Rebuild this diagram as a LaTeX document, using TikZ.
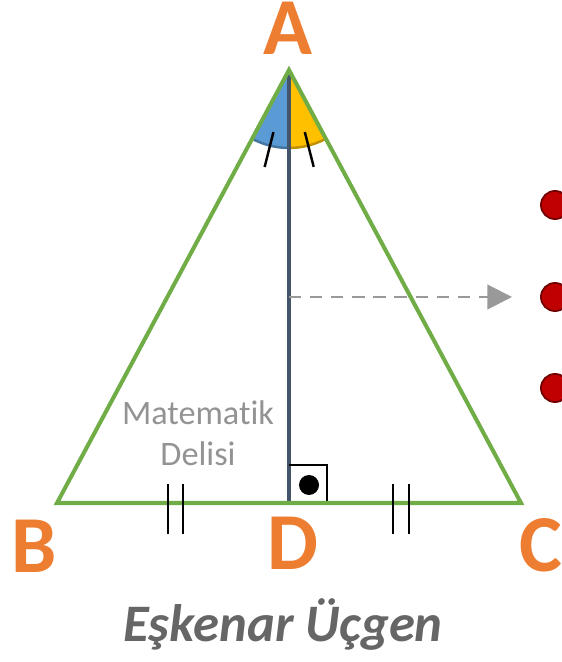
\documentclass[tikz,border=0pt]{standalone}
\usepackage{fontspec}
\setmainfont{Carlito}[Ligatures=NoCommon]
\usepackage{tikz}
\usetikzlibrary{arrows.meta,calc}
\definecolor{trigreen}{RGB}{112,173,71}
\definecolor{slate}{RGB}{68,84,106}
\definecolor{lblorange}{RGB}{237,125,49}
\definecolor{angblue}{RGB}{91,155,213}
\definecolor{angyellow}{RGB}{255,192,0}
\definecolor{dotred}{RGB}{192,0,0}
\tikzset{
  vlabel/.style={anchor=base,inner sep=0pt,text=lblorange,font=\fontsize{46}{46}\selectfont\bfseries},
  tick/.style={black,line width=1.4pt},
  reddot/.style={circle,fill=dotred,draw=dotred!60!black,line width=1pt,minimum size=16pt,inner sep=0pt}
}
\begin{document}
\begin{tikzpicture}[x=0.02cm,y=0.02cm]
\useasboundingbox (0,0) rectangle (561,662);
\coordinate (A) at (289,592);
\coordinate (B) at (57,159);
\coordinate (C) at (521,159);
\coordinate (D) at (289,159);
% angle at A
\fill[angblue] (A) -- ++(241.8:78) arc[start angle=241.8,end angle=270,radius=78] -- cycle;
\fill[angyellow] (A) -- ++(270:78) arc[start angle=270,end angle=298.2,radius=78] -- cycle;
\draw[angblue!75!black,line width=1.4pt] ($(A)+(241.8:78)$) arc[start angle=241.8,end angle=270,radius=78];
\draw[angyellow!75!black,line width=1.4pt] ($(A)+(270:78)$) arc[start angle=270,end angle=298.2,radius=78];
\draw[tick] ($(A)+(255.9:64)$) -- ($(A)+(255.9:100)$);
\draw[tick] ($(A)+(284.3:64)$) -- ($(A)+(284.3:100)$);
% altitude and right angle
\draw[slate,line width=2pt] (A) -- (D);
\draw[black,line width=1.7pt] ($(D)+(0,38)$) -- ++(38,0) -- ++(0,-38);
\fill[black] ($(D)+(20,18)$) circle (10);
% triangle
\draw[trigreen,line width=2.3pt,line join=miter] (A) -- (B) -- (C) -- cycle;
\draw[tick] (168,128) -- (168,178); \draw[tick] (183,128) -- (183,178);
\draw[tick] (393,128) -- (393,178); \draw[tick] (409,128) -- (409,178);
% arrow to the list
\coordinate (E) at (289,365);
\coordinate (F) at (512,365);
\draw[gray!80,line width=1.2pt,dash pattern=on 7pt off 5pt,-{Triangle[length=14pt,width=14pt]}] (E) -- (F);
\node[reddot] (dot1) at (555,457) {};
\node[reddot] (dot2) at (555,365) {};
\node[reddot] (dot3) at (555,274) {};
% labels
\node[vlabel] (labA) at (288,607) {A};
\node[vlabel] (labB) at (34,89) {B};
\node[vlabel] (labC) at (541,90) {C};
\node[vlabel] (labD) at (293,92) {D};
\node[text=gray!85,align=center,font=\fontsize{19.5}{23.2}\selectfont] (wm) at (198,229) {Matematik\\Delisi};
\node[anchor=base,text=black!60,font=\fontsize{30}{30}\selectfont\bfseries\itshape] (title) at (283,20) {Eşkenar Üçgen};
\end{tikzpicture}
\end{document}
